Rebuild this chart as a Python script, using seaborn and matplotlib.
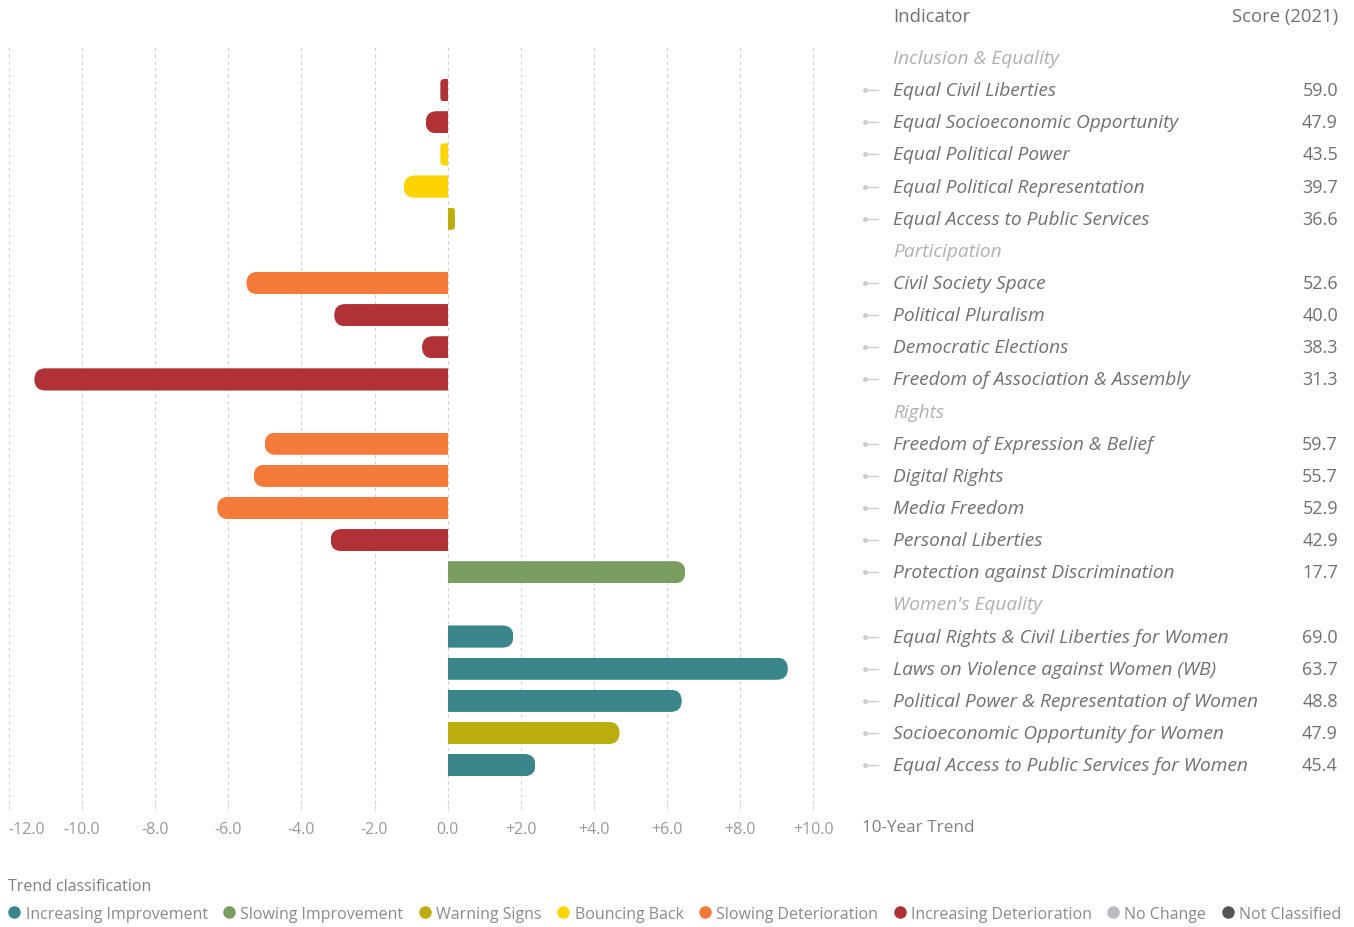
import matplotlib
matplotlib.use('Agg')
import matplotlib.pyplot as plt
import matplotlib.transforms as mtransforms
from matplotlib.patches import FancyBboxPatch
from matplotlib.lines import Line2D
import seaborn as sns
import pandas as pd
import numpy as np

# data
groups = ['Inclusion & Equality', 'Participation', 'Rights', "Women's Equality"]
group_of = ['Inclusion & Equality'] * 5 + ['Participation'] * 4 + ['Rights'] * 5 + ["Women's Equality"] * 5
indicators = [
    'Equal Civil Liberties', 'Equal Socioeconomic Opportunity', 'Equal Political Power',
    'Equal Political Representation', 'Equal Access to Public Services',
    'Civil Society Space', 'Political Pluralism', 'Democratic Elections',
    'Freedom of Association & Assembly',
    'Freedom of Expression & Belief', 'Digital Rights', 'Media Freedom',
    'Personal Liberties', 'Protection against Discrimination',
    'Equal Rights & Civil Liberties for Women', 'Laws on Violence against Women (WB)',
    'Political Power & Representation of Women', 'Socioeconomic Opportunity for Women',
    'Equal Access to Public Services for Women',
]
trend = [-0.2, -0.6, -0.2, -1.2, 0.2,
         -5.5, -3.1, -0.7, -11.3,
         -5.0, -5.3, -6.3, -3.2, 6.5,
         1.8, 9.3, 6.4, 4.7, 2.4]
trend_class = ['Increasing Deterioration', 'Increasing Deterioration', 'Bouncing Back', 'Bouncing Back', 'Warning Signs',
               'Slowing Deterioration', 'Increasing Deterioration', 'Increasing Deterioration', 'Increasing Deterioration',
               'Slowing Deterioration', 'Slowing Deterioration', 'Slowing Deterioration', 'Increasing Deterioration',
               'Slowing Improvement',
               'Increasing Improvement', 'Increasing Improvement', 'Increasing Improvement', 'Warning Signs',
               'Increasing Improvement']
scores = [59.0, 47.9, 43.5, 39.7, 36.6,
          52.6, 40.0, 38.3, 31.3,
          59.7, 55.7, 52.9, 42.9, 17.7,
          69.0, 63.7, 48.8, 47.9, 45.4]

classes = ['Increasing Improvement', 'Slowing Improvement', 'Warning Signs', 'Bouncing Back',
           'Slowing Deterioration', 'Increasing Deterioration', 'No Change', 'Not Classified']
class_colors = ['#3a868a', '#7a9e5f', '#bcae0f', '#fdd300', '#f47a3a', '#b03236', '#bdbdc1', '#555558']
ticks = [-12, -10, -8, -6, -4, -2, 0, 2, 4, 6, 8, 10]

df = pd.DataFrame({'indicator': indicators, 'group': group_of, 'trend': trend,
                   'cls': trend_class, 'score': scores})

# row order with group headers as empty slots
order = []
for g in groups:
    order.append(g)
    order.extend(df.loc[df['group'] == g, 'indicator'])

sns.set_style('white')
plt.rcParams['font.family'] = ['Open Sans', 'DejaVu Sans']

W, H = 1354, 928
fig = plt.figure(figsize=(W / 100, H / 100), dpi=100)
ax = fig.add_axes([8 / W, (H - 805) / H, 842 / W, 760 / H])

sns.barplot(data=df, x='trend', y='indicator', hue='cls', order=order, hue_order=classes,
            palette=dict(zip(classes, class_colors)), dodge=False, width=0.69,
            orient='h', legend=False, saturation=1, ax=ax)

ax.set_xlim(-12.02, 11.0)
ax.set_ylim(23.21, -0.436)
ax.set_xticks(ticks)
ax.set_xticklabels([('+' if t > 0 else '') + f'{t:.1f}' for t in ticks], color='#9a9a9a', fontsize=11.5)
ax.get_xticklabels()[0].set_ha('left')
ax.tick_params(axis='x', length=4, color='#dddddd', pad=8, bottom=True)
ax.set_yticks([])
ax.set_xlabel('')
ax.set_ylabel('')
for s in ax.spines.values():
    s.set_visible(False)
for t in ticks:
    ax.axvline(t, color='#d0d0d0', lw=0.8, ls=(0, (3, 3)), zorder=0)

# round the outer end of each bar
fig.canvas.draw()
p0 = ax.transData.transform((0, 0))
px_x = ax.transData.transform((1, 0))[0] - p0[0]
px_y = abs(ax.transData.transform((0, 1))[1] - p0[1])
for p in list(ax.patches):
    w = p.get_width()
    if not np.isfinite(w) or w == 0:
        continue
    x0, y0, h = p.get_x(), p.get_y(), p.get_height()
    v = x0 + w if x0 == 0 else x0
    r_px = min(h * px_y / 2, abs(v) * px_x / 2)
    rx = r_px / px_x
    if v > 0:
        bx, bw = -1, v + 1
    else:
        bx, bw = v, -v + 1
    clip = FancyBboxPatch((bx, y0), bw, h, boxstyle=f'round,pad=0,rounding_size={rx}',
                          mutation_aspect=px_x / px_y, transform=ax.transData)
    p.set_clip_path(clip)
    p.set_linewidth(0)

# right-hand table
blend = mtransforms.blended_transform_factory(fig.transFigure, ax.transData)
score_map = dict(zip(indicators, scores))
for i, name in enumerate(order):
    if name in groups:
        ax.text(893 / W, i, name, transform=blend, ha='left', va='center',
                fontsize=13.8, style='italic', color='#b0b0b0')
    else:
        ax.text(893 / W, i, name, transform=blend, ha='left', va='center',
                fontsize=13.8, style='italic', color='#707070')
        ax.text(1338 / W, i, f'{score_map[name]:.1f}', transform=blend, ha='right', va='center',
                fontsize=13, color='#707070')
        ax.plot([866 / W, 878 / W], [i, i], transform=blend, color='#cccccc', lw=1, clip_on=False)
        ax.plot([865 / W], [i], 'o', ms=2.5, transform=blend, color='#cccccc', clip_on=False)

fig.text(893 / W, 1 - 17 / H, 'Indicator', ha='left', va='center', fontsize=13.3, color='#707070')
fig.text(1338 / W, 1 - 17 / H, 'Score (2021)', ha='right', va='center', fontsize=13.3, color='#707070')
fig.text(862 / W, 1 - 828 / H, '10-Year Trend', ha='left', va='center', fontsize=12.3, color='#808080')

# legend
fig.text(8 / W, 1 - 887 / H, 'Trend classification', ha='left', va='center', fontsize=11.5, color='#808080')
handles = [Line2D([], [], ls='', marker='o', ms=8, color=c, label=l) for l, c in zip(classes, class_colors)]
leg = fig.legend(handles=handles, ncol=8, loc='center left', bbox_to_anchor=(8 / W, 1 - 915 / H),
                 frameon=False, fontsize=11.5, handletextpad=0.3, columnspacing=0.95,
                 handlelength=0.8, borderaxespad=0, borderpad=0)
for t in leg.get_texts():
    t.set_color('#8a8a8a')

fig.savefig('out.png', dpi=100)
